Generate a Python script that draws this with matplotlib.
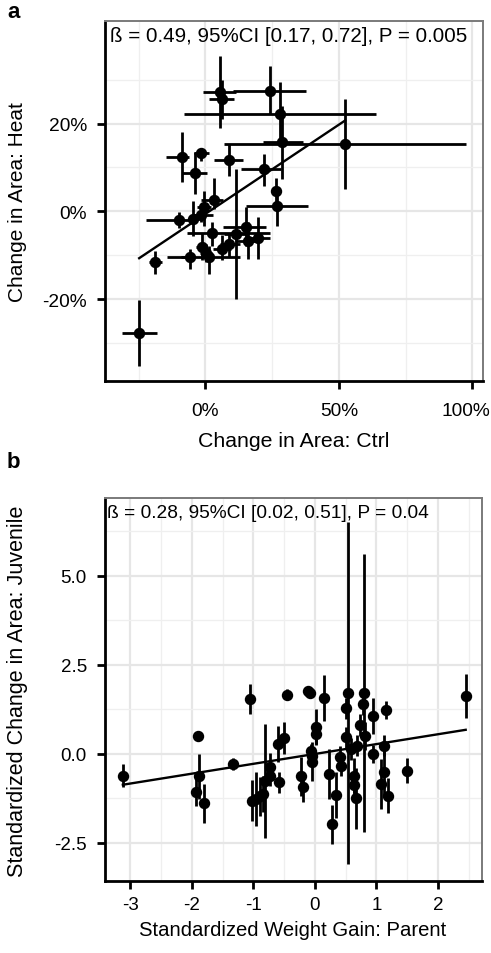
import numpy as np
import matplotlib
matplotlib.use("Agg")
import matplotlib.pyplot as plt
import matplotlib.transforms as mtrans
from matplotlib.ticker import FixedLocator, FuncFormatter

plt.rcParams['font.family'] = ['Liberation Sans', 'DejaVu Sans']
plt.rcParams['axes.unicode_minus'] = False

# ---------------- Panel a data (percent) ----------------
a_x    = [5.3, 6.1, 24.1, 27.8, 52.3, 28.8, 8.8, -1.6, -8.9, -3.9, 21.8, 3.1, -0.6, -4.5, -1.6, -9.8,
          -18.8, -24.8, 2.5, 11.5, 15.3, 26.8, 26.3, -5.8, -1.4, 0.3, 1.5, 6.3, 9.0, 15.9, 19.7]
a_y    = [27.1, 25.6, 27.5, 22.2, 15.3, 15.9, 11.8, 13.3, 12.3, 8.7, 9.6, 2.6, 1.0, -1.8, -0.8, -1.9,
          -11.6, -27.8, -4.9, -5.2, -3.5, 1.1, 4.7, -10.5, -8.2, -9.5, -10.5, -8.6, -7.5, -6.7, -6.2]
a_xlo  = [-1.0, 1.4, 10.2, -7.9, 7.1, 21.4, 3.4, -4.1, -14.8, -8.8, 13.4, -1.6, -3.0, -6.5, -4.8, -22.3,
          -21.1, -31.1, -6.7, 7.1, 6.5, 15.3, 25.0, -14.2, -3.5, -2.0, -9.1, 3.0, 5.3, 11.0, 15.3]
a_xhi  = [11.5, 10.9, 37.6, 63.9, 97.7, 36.5, 14.0, 1.5, -6.0, 0.5, 28.5, 6.5, 2.0, -2.5, 2.7, -4.5,
          -16.1, -18.3, 24.1, 15.3, 22.8, 38.3, 27.5, -4.1, 0.5, 2.5, 12.8, 9.5, 12.8, 20.5, 24.1]
a_ylo  = [19.0, 21.0, 22.2, 16.0, 5.1, 7.4, 8.1, 11.5, 6.6, 4.0, 5.8, 0.5, -3.3, -5.6, -2.5, -3.9,
          -14.3, -35.2, -7.8, -20.0, -7.8, -3.3, 1.5, -13.2, -11.0, -11.5, -14.3, -11.0, -10.4, -10.9, -10.9]
a_yhi  = [35.5, 30.0, 33.2, 29.4, 25.5, 24.1, 15.3, 14.4, 18.0, 13.5, 13.1, 7.7, 4.7, 2.4, 1.0, -0.2,
          -9.0, -20.2, -2.4, 9.7, 0.9, 5.1, 7.5, -8.6, -5.0, -7.5, -7.8, -5.5, -5.1, -2.5, -1.4]
a_fit = {"intercept": -0.6, "slope": 0.407}
a_text = "ß = 0.49, 95%CI [0.17, 0.72], P = 0.005"
a_xlabel = "Change in Area: Ctrl"
a_ylabel = "Change in Area: Heat"
a_xticks = [0, 50, 100]
a_yticks = [-20, 0, 20]

# ---------------- Panel b data ----------------
b_x   = [-3.12, -1.90, -1.88, -1.93, -1.80, -1.33, -1.06, -1.02, -0.95, -0.89, -0.84, -0.81, -0.73, -0.73,
         -0.60, -0.51, -0.58, -0.45, -0.22, -0.19, -0.12, -0.08, -0.07, -0.05, -0.04, 0.01, 0.01, 0.15,
         0.23, 0.28, 0.35, 0.41, 0.43, 0.54, 0.51, 0.51, 0.58, 0.68, 0.63, 0.63, 0.67, 0.80, 0.78, 0.73,
         0.81, 0.94, 1.15, 1.12, 0.95, 1.12, 1.07, 1.19, 1.49, 2.45]
b_y   = [-0.61, 0.51, -0.63, -1.06, -1.39, -0.28, 1.54, -1.31, -1.26, -1.19, -1.12, -0.75, -0.37, -0.61,
         0.28, 0.45, -0.80, 1.67, -0.63, -0.94, 1.76, 1.71, 0.09, -0.05, -0.22, 0.77, 0.56, 1.57,
         -0.56, -1.97, -1.15, -0.09, -0.33, 1.71, 1.28, 0.47, 0.14, 0.23, -0.61, -0.87, -1.25, 1.71, 1.40, 0.81,
         0.51, 1.06, 1.24, 0.23, 0.00, -0.51, -0.84, -1.17, -0.47, 1.64]
b_err = [0.33, 0.10, 0.63, 0.40, 0.55, 0.18, 0.43, 0.57, 0.75, 0.55, 0.50, 1.60, 0.40, 0.30,
         0.50, 0.45, 0.30, 0.15, 0.55, 0.40, 0.10, 0.10, 0.20, 0.20, 0.55, 0.50, 0.30, 0.65,
         0.70, 0.55, 0.65, 0.30, 0.30, 4.80, 0.30, 0.30, 0.30, 0.30, 0.50, 0.30, 0.85, 3.90, 0.30, 0.30,
         0.40, 0.50, 0.25, 0.30, 0.25, 0.70, 0.70, 0.50, 0.35, 0.62]
b_fit = {"intercept": 0.0, "slope": 0.277}
b_text = "ß = 0.28, 95%CI [0.02, 0.51], P = 0.04"
b_xlabel = "Standardized Weight Gain: Parent"
b_ylabel = "Standardized Change in Area: Juvenile"
b_xticks = [-3, -2, -1, 0, 1, 2]
b_yticks = [-2.5, 0.0, 2.5, 5.0]

W, H = 491, 954
fig = plt.figure(figsize=(W / 100, H / 100), dpi=100)

def style_axes(ax, xpad, ypad, lsize):
    ax.set_facecolor('white')
    ax.grid(True, which='major', color='#e6e6e6', lw=1.6, zorder=0)
    ax.grid(True, which='minor', color='#efefef', lw=0.9, zorder=0)
    ax.set_axisbelow(True)
    for s in ['top', 'right']:
        ax.spines[s].set_color('#7a7a7a')
        ax.spines[s].set_linewidth(1.4)
    for s in ['left', 'bottom']:
        ax.spines[s].set_color('black')
        ax.spines[s].set_linewidth(2.0)
    ax.tick_params(which='major', length=6, width=2.0, color='black', labelsize=lsize,
                   labelcolor='black', direction='out')
    ax.tick_params(axis='x', which='major', pad=xpad)
    ax.tick_params(axis='y', which='major', pad=ypad)
    ax.tick_params(which='minor', length=0)

# ---- panel a ----
axa = fig.add_axes([105 / W, 1 - 382 / H, 378 / W, 360 / H])
style_axes(axa, 9.0, 7.0, 13.8)
xa = np.array(a_x); ya = np.array(a_y)
xerr = [xa - np.array(a_xlo), np.array(a_xhi) - xa]
yerr = [ya - np.array(a_ylo), np.array(a_yhi) - ya]
axa.errorbar(xa, ya, xerr=xerr, yerr=yerr, fmt='o', color='black', ms=7.2, elinewidth=2.0,
             capsize=0, zorder=3)
xr = np.array([xa.min(), xa.max()])
axa.plot(xr, a_fit["intercept"] + a_fit["slope"] * xr, color='black', lw=1.7, zorder=4)
axa.set_xlim(-37.6, 104)
axa.set_ylim(-38.7, 43.4)
axa.xaxis.set_major_locator(FixedLocator(a_xticks))
axa.xaxis.set_minor_locator(FixedLocator([-25, 25, 75]))
axa.yaxis.set_major_locator(FixedLocator(a_yticks))
axa.yaxis.set_minor_locator(FixedLocator([-30, -10, 10, 30]))
pct = FuncFormatter(lambda v, p: f"{int(round(v))}%")
axa.xaxis.set_major_formatter(pct)
axa.yaxis.set_major_formatter(pct)
axa.text(0.012, 0.985, a_text, transform=axa.transAxes, ha='left', va='top', fontsize=14.8)

# ---- panel b ----
axb = fig.add_axes([105 / W, 1 - 881.7 / H, 376.7 / W, 382.7 / H])
style_axes(axb, 5.0, 7.0, 13.5)
axb.errorbar(b_x, b_y, yerr=b_err, fmt='o', color='black', ms=7.2, elinewidth=2.0,
             capsize=0, zorder=3)
xb = np.array(b_x)
xr = np.array([xb.min(), xb.max()])
axb.plot(xr, b_fit["intercept"] + b_fit["slope"] * xr, color='black', lw=1.7, zorder=4)
axb.set_xlim(-3.41, 2.71)
axb.set_ylim(-3.56, 7.19)
axb.xaxis.set_major_locator(FixedLocator(b_xticks))
axb.xaxis.set_minor_locator(FixedLocator([-2.5, -1.5, -0.5, 0.5, 1.5, 2.5]))
axb.yaxis.set_major_locator(FixedLocator(b_yticks))
axb.yaxis.set_minor_locator(FixedLocator([-1.25, 1.25, 3.75, 6.25]))
axb.yaxis.set_major_formatter(FuncFormatter(lambda v, p: f"{v:.1f}"))
axb.xaxis.set_major_formatter(FuncFormatter(lambda v, p: f"{int(round(v))}"))
axb.text(0.005, 0.985, b_text, transform=axb.transAxes, ha='left', va='top', fontsize=13.8)

# axis titles
fig.text(294 / W, 1 - 442 / H, a_xlabel, fontsize=15.3, ha='center', va='center')
fig.text(18 / W, 1 - 202 / H, a_ylabel, fontsize=15.0, ha='center', va='center', rotation=90)
fig.text(293 / W, 1 - 931 / H, b_xlabel, fontsize=14.6, ha='center', va='center')
fig.text(18 / W, 1 - 691 / H, b_ylabel, fontsize=15.5, ha='center', va='center', rotation=90)

fig.text(7 / W, 1 - 12 / H, "a", fontsize=16, fontweight='bold', ha='left', va='center')
fig.text(7 / W, 1 - 463 / H, "b", fontsize=16, fontweight='bold', ha='left', va='center')

# keep the rightmost percent label inside the figure, as in the reference
fig.canvas.draw()
lab = axa.xaxis.get_major_ticks()[-1].label1
lab.set_transform(lab.get_transform() + mtrans.ScaledTranslation(-6 / 100, 0, fig.dpi_scale_trans))

fig.savefig("out.png", dpi=100, facecolor='white')
